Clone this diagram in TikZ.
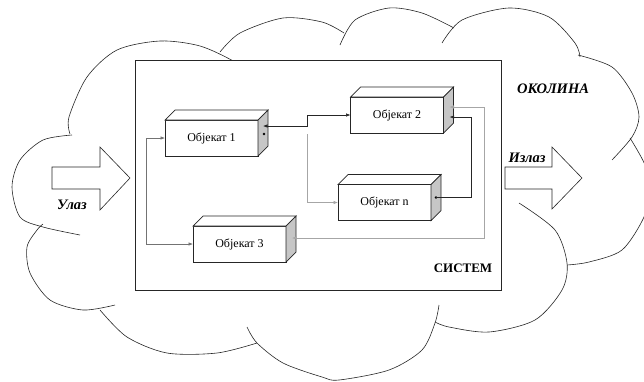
\documentclass[tikz,border=0pt]{standalone}
\usepackage{fontspec}
\setmainfont{Liberation Serif}
\usepackage{tikz}
\usetikzlibrary{arrows.meta}

\tikzset{
  puff/.style={line width=0.6pt, draw=black!85},
  boxline/.style={line width=0.7pt, draw=black!85},
  objbox/.style={boxline, fill=white, minimum width=93pt, minimum height=36pt, inner sep=0pt, outer sep=0pt, font=\fontsize{12}{14}\selectfont},
  tag/.style={font=\bfseries\itshape\fontsize{14.5}{16}\selectfont},
  wire/.style={line width=0.6pt, draw=black!85},
  midwire/.style={line width=0.6pt, draw=black!55},
  lightwire/.style={line width=0.6pt, draw=black!35}
}

\begin{document}
\begin{tikzpicture}[x=1pt,y=-1pt,>={Latex[length=4.5pt,width=3.5pt]}]
    \useasboundingbox (0,0) rectangle (644,381);
    \clip (0,0) rectangle (644,381);
        % draw cloud
    \draw[puff] plot[smooth] coordinates {(72,135) (43,140) (20,160) (12,187) (20,217) (43,227) (80,235)};
    \draw[puff] plot[smooth] coordinates {(70,134) (69,117) (87,77) (117,50) (160,41) (200,46) (235,62) (250,75)};
    \draw[puff] plot[smooth] coordinates {(220,52) (240,33) (283,18) (322,22) (344,33)};
    \draw[puff] plot[smooth] coordinates {(340,45) (355,20) (389,8) (422,13) (454,28)};
    \draw[puff] plot[smooth] coordinates {(442,43) (462,20) (509,8) (549,17) (575,43) (580,57)};
    \draw[puff] plot[smooth] coordinates {(578,55) (612,67) (632,93) (639,117) (632,137) (612,160)};
    \draw[puff] plot[smooth] coordinates {(630,138) (645,165) (649,190) (644,217) (622,250) (589,262) (567,265)};
    \draw[puff] plot[smooth] coordinates {(519,203) (555,230) (567,263) (562,290) (535,320) (489,332) (449,327) (435,322)};
    \draw[puff] plot[smooth] coordinates {(439,305) (435,323) (422,350) (389,370) (339,380) (322,377) (283,363) (257,343) (247,327)};
    \draw[puff] plot[smooth] coordinates {(257,343) (217,353) (167,353) (127,337) (100,310)};
    \draw[puff] plot[smooth] coordinates {(115,305) (83,310) (50,300) (30,273) (27,247) (37,230) (43,224)};
    \node[tag] (envlbl) at (553,89) {ОКОЛИНА};
        % input and output
    \draw[puff, fill=white] (52,167) -- (100,167) -- (100,147) -- (130,178) -- (100,210) -- (100,189) -- (52,189) -- cycle;
    \draw[puff, fill=white] (505,167) -- (552,167) -- (552,147) -- (582,178) -- (552,209) -- (552,189) -- (505,189) -- cycle;
    \node[tag] (inlbl) at (72,205) {Улаз};
    \node[tag] (outlbl) at (527,158) {Излаз};
        % system
    \node[draw=black!85, line width=1pt, fill=white, minimum width=366pt, minimum height=230pt, inner sep=0pt] (system) at (318,175) {};
    \node[font=\bfseries\fontsize{13}{15}\selectfont] (syslbl) at (463,268) {СИСТЕМ};
    \node[objbox] (o1) at (211.5,138) {Објекат 1};
    \node[objbox] (o2) at (397,115) {Објекат 2};
    \node[objbox] (on) at (384.5,202.5) {Објекат n};
    \node[objbox] (o3) at (239.5,244) {Објекат 3};
    \foreach \n in {o1,o2,on,o3} {
    \draw[boxline, fill=white] (\n.north west) -- ++(10,-10) -- ([shift={(10,-10)}]\n.north east) -- (\n.north east) -- cycle;
    \draw[boxline, fill=gray!45] (\n.north east) -- ++(10,-10) -- ([shift={(10,-10)}]\n.south east) -- (\n.south east) -- cycle;
    }
    \fill ([shift={(6,-4)}]o1.east) circle (1.4);
    \fill ([shift={(5,-5)}]on.east) circle (1.4);
    \coordinate (o1r) at ([shift={(5,-12)}]o1.east);
    \coordinate (o2a) at ([shift={(6,-8)}]o2.east);
    \coordinate (o2b) at ([shift={(6,2)}]o2.east);
    \coordinate (onr) at ([shift={(5,-5)}]on.east);
    \coordinate (o3r) at ([shift={(6,-6)}]o3.east);
    \coordinate (fork) at (307,134);
        % links
    \draw[wire,<->] (o1r) -- ++(44,0) |- (o2.west);
    \draw[lightwire,->] (fork) |- (on.west);
    \draw[wire,->] (onr) -- ++(35,0) |- (o2b);
    \draw[lightwire,<->] (o2a) -- ++(35,0) |- (o3r);
    \draw[midwire,<->] (o1.west) -- ++(-19,0) |- (o3.west);
\end{tikzpicture}
\end{document}
